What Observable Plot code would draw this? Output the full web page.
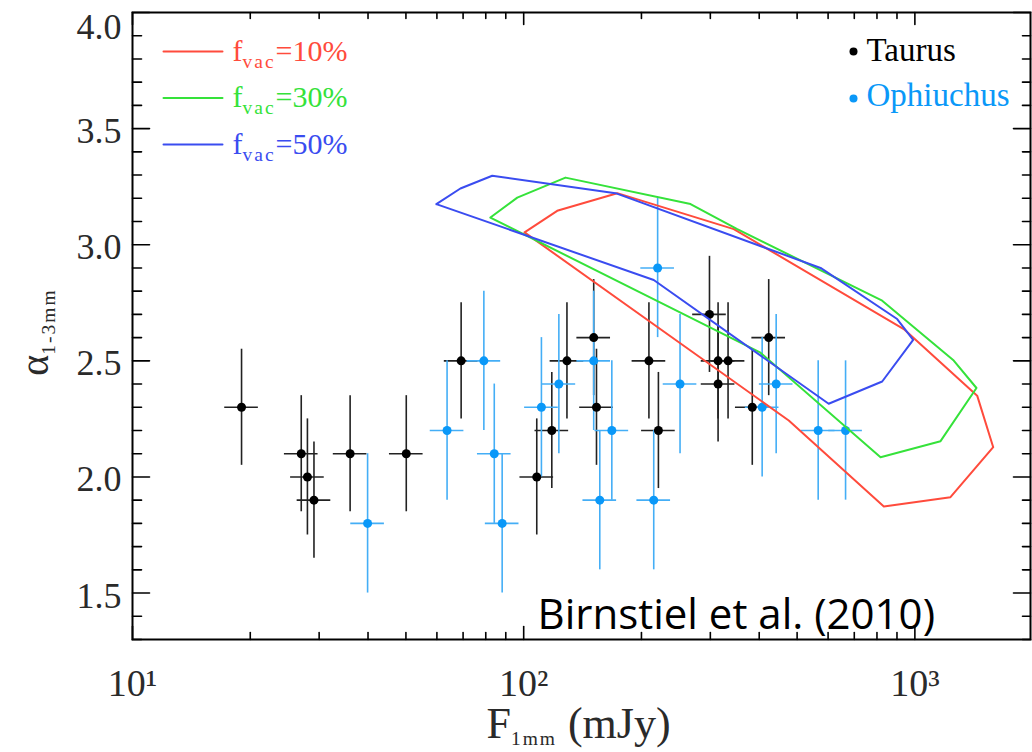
<!DOCTYPE html>
<html><head><meta charset="utf-8">
<script src="https://cdn.jsdelivr.net/npm/d3@7"></script>
<script src="https://cdn.jsdelivr.net/npm/@observablehq/plot@0.6"></script>
<style>
html,body{margin:0;padding:0;background:#fff;}
#chart svg{display:block;}
g[aria-label="ytick-labels"] text, g[aria-label="ytick-label-top"] text{letter-spacing:3px;}
g[aria-label="legend-right"] text{letter-spacing:2px;}
g[aria-label="legend-left"] text{letter-spacing:1px;}
g[aria-label="xtitle"] text{letter-spacing:1px;}
</style></head><body><div id="chart"></div>
<script>
// ---- data ----
const taurusFlux  = [19.0, 27.0, 28.0, 29.1, 36.0, 50.1, 69.2, 108, 118, 129, 151, 153.5, 209, 221, 298.5, 314, 314, 333, 384, 423];
const taurusAlpha = [2.3, 2.1, 2.0, 1.9, 2.1, 2.1, 2.5, 2.0, 2.2, 2.5, 2.6, 2.3, 2.5, 2.2, 2.7, 2.5, 2.4, 2.5, 2.3, 2.6];
const ophFlux  = [39.9, 63.7, 79.1, 84.1, 88.1, 111, 123, 151, 156.5, 168, 215, 220, 251, 407, 442, 566, 665];
const ophAlpha = [1.8, 2.2, 2.5, 2.1, 1.8, 2.3, 2.4, 2.5, 1.9, 2.2, 1.9, 2.9, 2.4, 2.3, 2.4, 2.2, 2.2];
const taurusAlphaErr = 0.25;
const ophAlphaErr = 0.3;
const fluxErrDex = 0.043;

const c10Flux  = [100.5, 121.8, 173.4, 344.4, 936.7, 1443, 1586, 1233, 833, 476, 100.5];
const c10Alpha = [3.053, 3.146, 3.222, 3.067, 2.637, 2.350, 2.128, 1.913, 1.873, 2.243, 3.053];
const c30Flux  = [82.2, 96.3, 127.9, 267, 351.5, 825, 1257, 1437, 1163, 817, 403, 82.2];
const c30Alpha = [3.117, 3.203, 3.289, 3.175, 3.067, 2.759, 2.501, 2.383, 2.154, 2.085, 2.535, 3.117];
const c50Flux  = [59.8, 68.9, 83.1, 171.7, 574, 901, 990, 825, 602, 215, 59.8];
const c50Alpha = [3.175, 3.242, 3.297, 3.222, 2.900, 2.680, 2.590, 2.411, 2.315, 2.848, 3.175];

const legendLabels = ["f_{vac}=10%", "f_{vac}=30%", "f_{vac}=50%"];
const groupLabels = ["Taurus", "Ophiuchus"];

const xMajorTicks = [10, 100, 1000];
const xMajorLabels = ["10¹", "10²", "10³"];
const xMinorTicks = [20, 30, 40, 50, 60, 70, 80, 90, 200, 300, 400, 500, 600, 700, 800, 900];
const yMajorTicks = [1.5, 2.0, 2.5, 3.0, 3.5, 4.0];
const yMinorTicks = [1.3, 1.4, 1.6, 1.7, 1.8, 1.9, 2.1, 2.2, 2.3, 2.4, 2.6, 2.7, 2.8, 2.9, 3.1, 3.2, 3.3, 3.4, 3.6, 3.7, 3.8, 3.9];

const xDomain = [10, 1975];
const yDomain = [1.3, 4.0];

// ---- styles ----
const RED = "#ff4b3c", GREEN = "#35e23a", BLUE = "#3a4cf0";
const OPH = "#0a98f8", OPH_BAR = "#44aef6";
const SERIF = "Liberation Serif";
const INK = "#2a2a2a";

const taurus = taurusFlux.map((x, i) => ({x, y: taurusAlpha[i]}));
const oph = ophFlux.map((x, i) => ({x, y: ophAlpha[i]}));
const poly = (fx, fy) => fx.map((x, i) => ({x, y: fy[i]}));
const f = Math.pow(10, fluxErrDex);

const lineShape = {draw(ctx, l) { ctx.moveTo(0, 0); ctx.lineTo(0, -l); }};
const tick = (data, o) => Plot.vector(data, {anchor: "start", shape: lineShape, stroke: "black", strokeWidth: 1.6, ...o});
const xmin = () => xDomain[0], xmax = () => xDomain[1], ymin = () => yDomain[0], ymax = () => yDomain[1];

const marks = [
  // error bars
  Plot.ruleX(taurus, {x: "x", y1: d => d.y - taurusAlphaErr, y2: d => d.y + taurusAlphaErr, stroke: "#222", strokeWidth: 1.6}),
  Plot.ruleY(taurus, {y: "y", x1: d => d.x / f, x2: d => d.x * f, stroke: "#222", strokeWidth: 1.6}),
  Plot.ruleX(oph, {x: "x", y1: d => d.y - ophAlphaErr, y2: d => d.y + ophAlphaErr, stroke: OPH_BAR, strokeWidth: 1.6}),
  Plot.ruleY(oph, {y: "y", x1: d => d.x / f, x2: d => d.x * f, stroke: OPH_BAR, strokeWidth: 1.6}),
  Plot.dot(taurus, {x: "x", y: "y", r: 4.5, fill: "black"}),
  Plot.dot(oph, {x: "x", y: "y", r: 4.5, fill: OPH}),
  // contours
  Plot.line(poly(c10Flux, c10Alpha), {x: "x", y: "y", stroke: RED, strokeWidth: 2}),
  Plot.line(poly(c30Flux, c30Alpha), {x: "x", y: "y", stroke: GREEN, strokeWidth: 2}),
  Plot.line(poly(c50Flux, c50Alpha), {x: "x", y: "y", stroke: BLUE, strokeWidth: 2}),
  // inward ticks
  tick(yMajorTicks, {x: xmin, y: d => d, length: 17, rotate: 90}),
  tick(yMinorTicks, {x: xmin, y: d => d, length: 9, rotate: 90}),
  tick(yMajorTicks, {x: xmax, y: d => d, length: 17, rotate: -90}),
  tick(yMinorTicks, {x: xmax, y: d => d, length: 8, rotate: -90}),
  tick(xMajorTicks, {x: d => d, y: ymin, length: 13, rotate: 0}),
  tick(xMinorTicks, {x: d => d, y: ymin, length: 7, rotate: 0}),
  tick(xMajorTicks, {x: d => d, y: ymax, length: 12, rotate: 180}),
  tick(xMinorTicks, {x: d => d, y: ymax, length: 6, rotate: 180}),
  Plot.frame({stroke: "black", strokeWidth: 2}),
  // tick labels
  Plot.text(yMajorTicks.filter(d => d < 4), {x: xmin, y: d => d, text: d => d.toFixed(1), textAnchor: "end", lineAnchor: "middle", dx: -11, dy: 3, fontSize: 36, fontFamily: SERIF, fill: INK, ariaLabel: "ytick-labels"}),
  Plot.text(yMajorTicks.filter(d => d >= 4), {x: xmin, y: d => d, text: d => d.toFixed(1), textAnchor: "end", lineAnchor: "middle", dx: -11, dy: 15, fontSize: 36, fontFamily: SERIF, fill: INK, ariaLabel: "ytick-label-top"}),
  Plot.text(xMajorTicks, {x: d => d, y: ymin, text: (d, i) => xMajorLabels[i], textAnchor: "middle", lineAnchor: "bottom", dy: 56, fontSize: 38, fontFamily: SERIF, fill: INK}),
  // axis titles
  Plot.text(["F_{1mm} (mJy)"], {frameAnchor: "bottom", text: d => d, textAnchor: "middle", lineAnchor: "bottom", dx: -3, dy: 98, fontSize: 44, fontFamily: SERIF, fill: INK, ariaLabel: "xtitle"}),
  Plot.text(["α_{1-3mm}"], {frameAnchor: "left", text: d => d, textAnchor: "middle", lineAnchor: "bottom", rotate: -90, dx: -85, dy: 6, fontSize: 40, fontFamily: SERIF, fill: INK, ariaLabel: "ytitle"}),
  // left legend
  ...[RED, GREEN, BLUE].map((c, i) => Plot.vector([0], {frameAnchor: "top-left", dx: 31, dy: 39 + i * 46.5, length: 59, rotate: 90, anchor: "start", shape: lineShape, stroke: c, strokeWidth: 2})),
  ...[RED, GREEN, BLUE].map((c, i) => Plot.text([legendLabels[i]], {frameAnchor: "top-left", text: d => d, textAnchor: "start", lineAnchor: "bottom", dx: 100, dy: 48 + i * 46.5, fontSize: 30, fontFamily: SERIF, fill: c, ariaLabel: "legend-left"})),
  // right legend
  Plot.dot([0], {frameAnchor: "top-right", dx: -177, dy: 39, r: 4, fill: "black"}),
  Plot.dot([0], {frameAnchor: "top-right", dx: -177, dy: 86, r: 4, fill: OPH}),
  Plot.text([groupLabels[0]], {frameAnchor: "top-right", text: d => d, textAnchor: "start", lineAnchor: "bottom", dx: -164, dy: 48, fontSize: 33, fontFamily: SERIF, fill: "black", ariaLabel: "legend-right"}),
  Plot.text([groupLabels[1]], {frameAnchor: "top-right", text: d => d, textAnchor: "start", lineAnchor: "bottom", dx: -164, dy: 93, fontSize: 33, fontFamily: SERIF, fill: OPH, ariaLabel: "legend-right"}),
  // citation
  Plot.text(["Birnstiel et al. (2010)"], {frameAnchor: "bottom-left", text: d => d, textAnchor: "start", lineAnchor: "bottom", dx: 405, dy: -11, fontSize: 42, fontFamily: "Open Sans", fill: "black", ariaLabel: "citation"})
];

const chart = Plot.plot({
  width: 1032, height: 752,
  marginLeft: 132, marginRight: 2, marginTop: 12, marginBottom: 113,
  x: {type: "log", domain: xDomain, axis: null},
  y: {domain: yDomain, axis: null},
  style: {background: "white"},
  marks
});

// subscripts written as _{...}
d3.select(chart).selectAll("text").each(function () {
  const t = this.textContent;
  if (!t.includes("_{")) return;
  const group = this.closest("g[aria-label]");
  const label = group ? group.getAttribute("aria-label") : "";
  const isY = label === "ytitle";
  const fs = parseFloat(getComputedStyle(this).fontSize) || 30;
  const shift = fs * (isY ? 0.22 : 0.24);
  const scale = isY ? 0.7 : 0.65;
  const spacing = isY ? "10px" : label === "xtitle" ? "3px" : "2px";
  const parts = t.split(/(_\{[^}]*\})/).filter(Boolean);
  const sel = d3.select(this);
  sel.text(null);
  let down = false;
  for (const p of parts) {
    if (p.startsWith("_{")) {
      sel.append("tspan").attr("font-size", fs * scale).attr("dy", shift).style("letter-spacing", spacing).text(p.slice(2, -1));
      down = true;
    } else {
      const ts = sel.append("tspan").text(p);
      if (down) ts.attr("dy", -shift);
      down = false;
    }
  }
});
d3.select(chart).selectAll('g[aria-label="citation"] text').attr("textLength", 400).attr("lengthAdjust", "spacingAndGlyphs");

document.getElementById("chart").appendChild(chart);
</script>
</body></html>
